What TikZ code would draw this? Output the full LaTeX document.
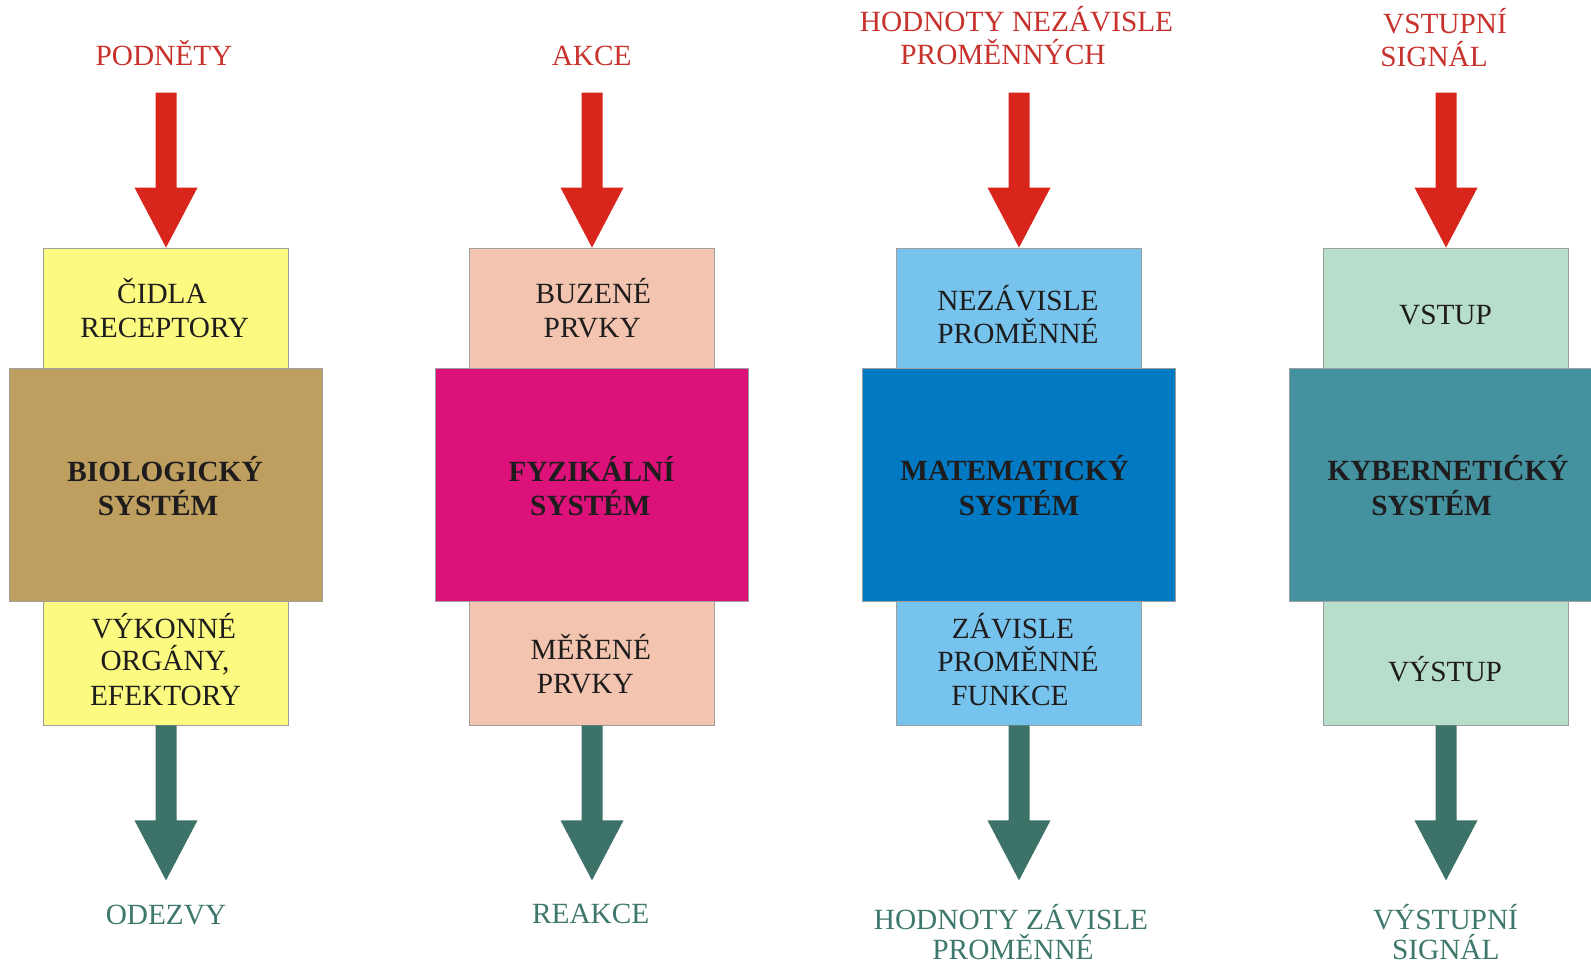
\documentclass[tikz,border=0pt]{standalone}
\usepackage{fontspec}
\setmainfont{Liberation Serif}
\usetikzlibrary{calc}
\definecolor{cYellow}{RGB}{252,250,128}
\definecolor{cBrown}{RGB}{190,159,96}
\definecolor{cPeach}{RGB}{243,197,176}
\definecolor{cMagenta}{RGB}{220,17,122}
\definecolor{cLBlue}{RGB}{118,196,238}
\definecolor{cBlue}{RGB}{2,122,195}
\definecolor{cMint}{RGB}{183,222,202}
\definecolor{cTeal}{RGB}{68,145,160}
\definecolor{cRedArr}{RGB}{217,38,28}
\definecolor{cRedTxt}{RGB}{200,50,45}
\definecolor{cGrnArr}{RGB}{60,114,104}
\definecolor{cGrnTxt}{RGB}{62,120,108}
\definecolor{cInk}{RGB}{30,28,28}
\tikzset{
  sbox/.style={rectangle, inner sep=0pt, minimum width=245.5pt, line width=0.8pt, draw=black!38, fill=#1},
  bbox/.style={rectangle, inner sep=0pt, minimum width=312.5pt, minimum height=233pt, line width=0.8pt, draw=black!38, fill=#1},
  txt/.style={anchor=base, inner sep=0pt, text=cInk, font=\fontsize{29.3}{34}\selectfont},
  btxt/.style={anchor=base, inner sep=0pt, text=cInk, font=\fontsize{29.3}{34}\selectfont\bfseries},
  intxt/.style={anchor=base, inner sep=0pt, text=cRedTxt, font=\fontsize{29.3}{34}\selectfont},
  outtxt/.style={anchor=base, inner sep=0pt, text=cGrnTxt, font=\fontsize{29.3}{34}\selectfont},
  redarr/.style={fill=cRedArr},
  grnarr/.style={fill=cGrnArr}
}
\newcommand{\inarrow}[1]{\fill[redarr] (#1.north) -- ++(-31.5,-60) -- ++(21,0) -- ++(0,-95) -- ++(21,0) -- ++(0,95) -- ++(21,0) -- cycle;}
\newcommand{\outarrow}[1]{\fill[grnarr] ($(#1.south)+(-10.5,0)$) -- ++(0,95) -- ++(-21,0) -- ++(31.5,60) -- ++(31.5,-60) -- ++(-21,0) -- ++(0,-95) -- cycle;}
\begin{document}
\begin{tikzpicture}[x=1pt,y=-1pt]
\useasboundingbox (0,0) rectangle (1591,965);
\clip (0,0) rectangle (1591,965);
\fill[white] (0,0) rectangle (1591,965);

% ---------- column 1 ----------
\node[sbox=cYellow, minimum height=120pt] (s1t) at (166,308) {};
\node[sbox=cYellow, minimum height=124pt] (s1b) at (166,663) {};
\node[bbox=cBrown] (m1) at (166,484.5) {};
\node[txt] (t1a) at (162,303.3) {ČIDLA};
\node[txt] (t1b) at (164.7,337.3) {RECEPTORY};
\node[btxt] (m1a) at (165,481.7) {BIOLOGICKÝ};
\node[btxt] (m1b) at (158,515.7) {SYSTÉM};
\node[txt] (o1a) at (163.7,638.3) {VÝKONNÉ};
\node[txt] (o1b) at (165,670.7) {ORGÁNY,};
\node[txt] (o1c) at (165.5,705) {EFEKTORY};
\node[intxt] (i1) at (164,65.7) {PODNĚTY};
\node[outtxt] (r1) at (166,924) {ODEZVY};
\inarrow{s1t}
\outarrow{s1b}

% ---------- column 2 ----------
\node[sbox=cPeach, minimum height=120pt] (s2t) at (592,308) {};
\node[sbox=cPeach, minimum height=124pt] (s2b) at (592,663) {};
\node[bbox=cMagenta] (m2) at (592,484.5) {};
\node[txt] (t2a) at (593.3,303.3) {BUZENÉ};
\node[txt] (t2b) at (592.2,337.3) {PRVKY};
\node[btxt] (m2a) at (591.7,481.7) {FYZIKÁLNÍ};
\node[btxt] (m2b) at (590.3,515.7) {SYSTÉM};
\node[txt] (o2a) at (590.8,659) {MĚŘENÉ};
\node[txt] (o2b) at (585.3,693.3) {PRVKY};
\node[intxt] (i2) at (591.7,65.7) {AKCE};
\node[outtxt] (r2) at (590.7,923.3) {REAKCE};
\inarrow{s2t}
\outarrow{s2b}

% ---------- column 3 ----------
\node[sbox=cLBlue, minimum height=120pt] (s3t) at (1019,308) {};
\node[sbox=cLBlue, minimum height=124pt] (s3b) at (1019,663) {};
\node[bbox=cBlue] (m3) at (1019,484.5) {};
\node[txt] (t3a) at (1018,310.7) {NEZÁVISLE};
\node[txt] (t3b) at (1018,343.3) {PROMĚNNÉ};
\node[btxt] (m3a) at (1014.7,480.7) {MATEMATICKÝ};
\node[btxt] (m3b) at (1019,515.7) {SYSTÉM};
\node[txt] (o3a) at (1013,638.3) {ZÁVISLE};
\node[txt] (o3b) at (1018,671.7) {PROMĚNNÉ};
\node[txt] (o3c) at (1010,705) {FUNKCE};
\node[intxt] (i3a) at (1016.5,31.7) {HODNOTY NEZÁVISLE};
\node[intxt] (i3b) at (1003,65) {PROMĚNNÝCH};
\node[outtxt] (r3a) at (1011,929) {HODNOTY ZÁVISLE};
\node[outtxt] (r3b) at (1013,959) {PROMĚNNÉ};
\inarrow{s3t}
\outarrow{s3b}

% ---------- column 4 ----------
\node[sbox=cMint, minimum height=120pt] (s4t) at (1446,308) {};
\node[sbox=cMint, minimum height=124pt] (s4b) at (1446,663) {};
\node[bbox=cTeal] (m4) at (1446,484.5) {};
\node[txt] (t4a) at (1445.5,325) {VSTUP};
\node[btxt] (m4a) at (1448,480) {KYBERNETIĆKÝ};
\node[btxt] (m4b) at (1431.5,515) {SYSTÉM};
\node[txt] (o4a) at (1445,681.7) {VÝSTUP};
\node[intxt] (i4a) at (1445,33.3) {VSTUPNÍ};
\node[intxt] (i4b) at (1434,66.7) {SIGNÁL};
\node[outtxt] (r4a) at (1445.5,929) {VÝSTUPNÍ};
\node[outtxt] (r4b) at (1445.8,959) {SIGNÁL};
\inarrow{s4t}
\outarrow{s4b}
\end{tikzpicture}
\end{document}
